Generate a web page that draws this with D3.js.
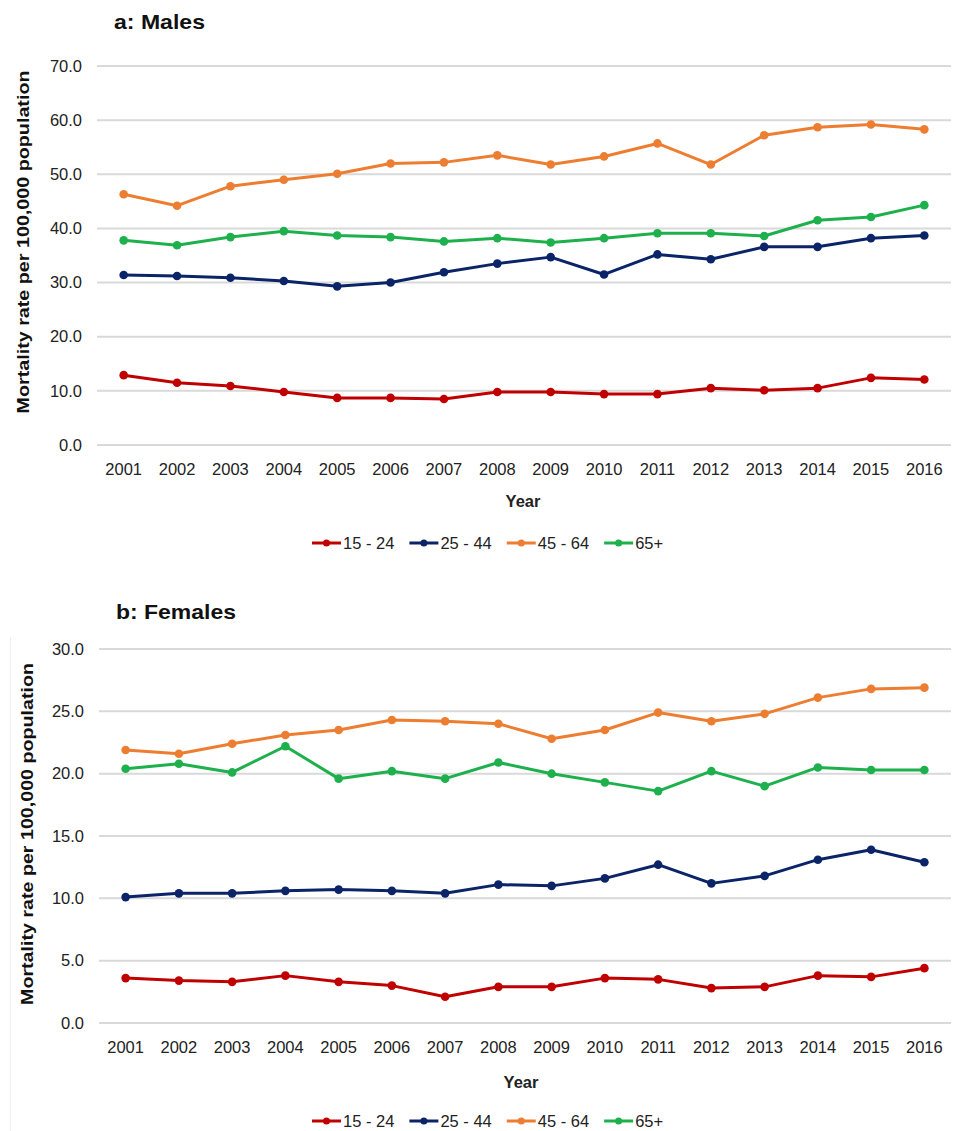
<!DOCTYPE html>
<html>
<head>
<meta charset="utf-8">
<script src="https://cdn.jsdelivr.net/npm/d3@7"></script>
<style>
    body { margin: 0; background: #fff; }
    svg { font-family: "Liberation Sans", Arial, sans-serif; }
</style>
</head>
<body>
<svg id="chart" width="955" height="1131"></svg>
<script>
// Data
const years = ["2001","2002","2003","2004","2005","2006","2007","2008","2009","2010","2011","2012","2013","2014","2015","2016"];
const ageGroups = ["15 - 24", "25 - 44", "45 - 64", "65+"];
const colors = ["#c00000", "#0b2468", "#ed7d31", "#1db04c"];

const males15_24 = [12.9, 11.5, 10.9, 9.8, 8.7, 8.7, 8.5, 9.8, 9.8, 9.4, 9.4, 10.5, 10.1, 10.5, 12.4, 12.1];
const males25_44 = [31.4, 31.2, 30.9, 30.3, 29.3, 30.0, 31.9, 33.5, 34.7, 31.5, 35.2, 34.3, 36.6, 36.6, 38.2, 38.7];
const males45_64 = [46.3, 44.2, 47.8, 49.0, 50.1, 52.0, 52.2, 53.5, 51.8, 53.3, 55.7, 51.8, 57.2, 58.7, 59.2, 58.3];
const males65 = [37.8, 36.9, 38.4, 39.5, 38.7, 38.4, 37.6, 38.2, 37.4, 38.2, 39.1, 39.1, 38.6, 41.5, 42.1, 44.3];

const females15_24 = [3.6, 3.4, 3.3, 3.8, 3.3, 3.0, 2.1, 2.9, 2.9, 3.6, 3.5, 2.8, 2.9, 3.8, 3.7, 4.4];
const females25_44 = [10.1, 10.4, 10.4, 10.6, 10.7, 10.6, 10.4, 11.1, 11.0, 11.6, 12.7, 11.2, 11.8, 13.1, 13.9, 12.9];
const females45_64 = [21.9, 21.6, 22.4, 23.1, 23.5, 24.3, 24.2, 24.0, 22.8, 23.5, 24.9, 24.2, 24.8, 26.1, 26.8, 26.9];
const females65 = [20.4, 20.8, 20.1, 22.2, 19.6, 20.2, 19.6, 20.9, 20.0, 19.3, 18.6, 20.2, 19.0, 20.5, 20.3, 20.3];

const maleTicks = [0, 10, 20, 30, 40, 50, 60, 70];
const femaleTicks = [0, 5, 10, 15, 20, 25, 30];

const svg = d3.select("#chart");

// Faint border line on left of bottom panel (as in source image)
svg.append("line")
    .attr("x1", 10.5).attr("x2", 10.5)
    .attr("y1", 637).attr("y2", 1131)
    .attr("stroke", "#eeeeee").attr("stroke-width", 1);

function drawPanel(p) {
    const g = svg.append("g");

    const x = d3.scaleBand().domain(years).range([p.left, p.right]);
    const y = d3.scaleLinear().domain([0, p.max]).range([p.bottom, p.top]);

    // Title
    g.append("text")
        .attr("x", p.titleX).attr("y", p.titleY)
        .attr("font-size", 21).attr("font-weight", "bold")
        .attr("fill", "#111")
        .attr("textLength", p.titleLen)
        .attr("lengthAdjust", "spacingAndGlyphs")
        .text(p.title);

    // Gridlines
    g.append("g")
        .selectAll("line")
        .data(p.ticks)
        .join("line")
        .attr("x1", p.left).attr("x2", p.right)
        .attr("y1", d => y(d)).attr("y2", d => y(d))
        .attr("stroke", "#d9d9d9")
        .attr("stroke-width", 2);

    // Y axis tick labels
    const yAxis = d3.axisLeft(y).tickValues(p.ticks).tickFormat(d3.format(".1f")).tickSize(0).tickPadding(0);
    const yg = g.append("g")
        .attr("transform", `translate(${p.yLabelRight},0)`)
        .call(yAxis);
    yg.select(".domain").remove();
    yg.selectAll("text")
        .attr("font-size", 16.5)
        .attr("font-family", "Liberation Sans, Arial, sans-serif")
        .attr("fill", "#222");

    // X axis tick labels
    const xAxis = d3.axisBottom(x).tickSize(0).tickPadding(0);
    const xg = g.append("g")
        .attr("transform", `translate(0,${p.xLabelY})`)
        .call(xAxis);
    xg.select(".domain").remove();
    xg.selectAll("text")
        .attr("font-size", 16.5)
        .attr("font-family", "Liberation Sans, Arial, sans-serif")
        .attr("fill", "#222")
        .attr("dy", "0.35em");

    // Axis titles
    g.append("text")
        .attr("x", p.yearX).attr("y", p.yearY)
        .attr("text-anchor", "middle")
        .attr("dominant-baseline", "central")
        .attr("font-size", 16.5).attr("font-weight", "bold")
        .attr("fill", "#222")
        .text("Year");

    g.append("text")
        .attr("transform", `translate(${p.yTitleX},${p.yTitleY}) rotate(-90)`)
        .attr("text-anchor", "middle")
        .attr("dominant-baseline", "central")
        .attr("font-size", 17).attr("font-weight", "bold")
        .attr("fill", "#111")
        .attr("textLength", p.yTitleLen)
        .attr("lengthAdjust", "spacingAndGlyphs")
        .text("Mortality rate per 100,000 population");

    // Series
    const line = d3.line()
        .x((d, i) => x(years[i]) + x.bandwidth() / 2)
        .y(d => y(d));

    p.series.forEach((values, si) => {
        g.append("path")
            .datum(values)
            .attr("fill", "none")
            .attr("stroke", colors[si])
            .attr("stroke-width", 3)
            .attr("stroke-linejoin", "round")
            .attr("d", line);

        g.append("g")
            .selectAll("circle")
            .data(values)
            .join("circle")
            .attr("cx", (d, i) => x(years[i]) + x.bandwidth() / 2)
            .attr("cy", d => y(d))
            .attr("r", 4.3)
            .attr("fill", colors[si]);
    });

    // Legend
    const legend = g.append("g");
    let lx = p.legendX;
    ageGroups.forEach((name, i) => {
        const item = legend.append("g");
        item.append("line")
            .attr("x1", lx).attr("x2", lx + 29)
            .attr("y1", p.legendY).attr("y2", p.legendY)
            .attr("stroke", colors[i]).attr("stroke-width", 3);
        item.append("circle")
            .attr("cx", lx + 14.5).attr("cy", p.legendY)
            .attr("r", 3.5).attr("fill", colors[i]);
        const t = item.append("text")
            .attr("x", lx + 31).attr("y", p.legendY)
            .attr("dominant-baseline", "central")
            .attr("font-size", 16.5)
            .attr("fill", "#222")
            .text(name);
        lx += 31 + t.node().getComputedTextLength() + 15;
    });
}

drawPanel({
    title: "a: Males", titleX: 114, titleY: 29, titleLen: 91,
    left: 97, right: 951, top: 66, bottom: 445, max: 70,
    ticks: maleTicks, yLabelRight: 82, xLabelY: 469,
    yearX: 523, yearY: 501, yTitleX: 23, yTitleY: 242, yTitleLen: 343,
    legendX: 312, legendY: 543,
    series: [males15_24, males25_44, males45_64, males65]
});

drawPanel({
    title: "b: Females", titleX: 116, titleY: 619, titleLen: 120,
    left: 99, right: 951, top: 649, bottom: 1023, max: 30,
    ticks: femaleTicks, yLabelRight: 84, xLabelY: 1047,
    yearX: 521, yearY: 1082, yTitleX: 27, yTitleY: 834, yTitleLen: 342,
    legendX: 312, legendY: 1121,
    series: [females15_24, females25_44, females45_64, females65]
});
</script>
</body>
</html>
